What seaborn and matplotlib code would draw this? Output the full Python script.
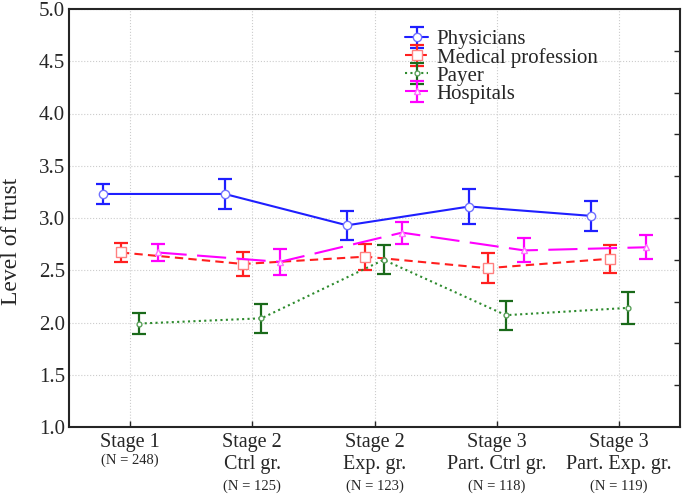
import numpy as np
import pandas as pd
import matplotlib.pyplot as plt
import seaborn as sns

# Data
stage_names = ["Stage 1", "Stage 2", "Stage 2", "Stage 3", "Stage 3"]
group_names = ["", "Ctrl gr.", "Exp. gr.", "Part. Ctrl gr.", "Part. Exp. gr."]
n_sizes = [248, 125, 123, 118, 119]

series_names = ["Physicians", "Medical profession", "Payer", "Hospitals"]
physicians = [3.23, 3.23, 2.93, 3.11, 3.02]
physicians_err = [0.10, 0.14, 0.14, 0.165, 0.14]
medical = [2.67, 2.56, 2.63, 2.52, 2.61]
medical_err = [0.09, 0.115, 0.125, 0.145, 0.135]
payer = [1.99, 2.04, 2.60, 2.07, 2.14]
payer_err = [0.10, 0.14, 0.14, 0.14, 0.155]
hospitals = [2.67, 2.58, 2.86, 2.69, 2.72]
hospitals_err = [0.085, 0.125, 0.105, 0.115, 0.115]

values = [physicians, medical, payer, hospitals]
errors = [physicians_err, medical_err, payer_err, hospitals_err]

# styles
offsets = [-0.225, -0.075, 0.075, 0.225]
line_colors = ["#1f1fff", "#ff1f1f", "#2e8b2e", "#ff00ff"]
err_colors = ["#1f1fff", "#ff1f1f", "#1a6a1a", "#ff00ff"]
edge_colors = ["#7070ff", "#ff8080", "#5aa05a", "#ff70ff"]
linestyles = ["-", (0, (4, 2.5)), (0, (1, 1.6)), (0, (14, 5))]
markers = ["o", "s", "o", "^"]
msizes = [6, 6.5, 3.5, 4.5]

sns.set_theme(style="ticks")
plt.rcParams['font.family'] = ['Liberation Serif', 'DejaVu Serif']

fig = plt.figure(figsize=(6.85, 4.95), dpi=100)
ax = fig.add_axes([69 / 685, (495 - 427) / 495, (680 - 69) / 685, (427 - 9) / 495])

handles = []
for k, name in enumerate(series_names):
    df = pd.DataFrame({
        "x": np.arange(len(stage_names)) + offsets[k],
        "y": values[k],
        "err": errors[k],
    })
    sns.lineplot(data=df, x="x", y="y", ax=ax, color=line_colors[k],
                 linestyle=linestyles[k], linewidth=1.5, marker=markers[k],
                 markersize=msizes[k], markerfacecolor="white",
                 markeredgecolor=edge_colors[k], markeredgewidth=1.0,
                 errorbar=None, sort=False, zorder=3)
    line = ax.get_lines()[-1]
    eb = ax.errorbar(df["x"], df["y"], yerr=df["err"], fmt="none",
                     ecolor=err_colors[k], elinewidth=1.6, capsize=5,
                     capthick=1.6, zorder=2)
    handles.append((eb, line))

ax.set_xlim(-0.5, 4.5)
ax.set_ylim(1.0, 5.0)
ax.set_yticks(np.arange(1.0, 5.01, 0.5))
ax.set_yticklabels([f"{v:.1f}" for v in np.arange(1.0, 5.01, 0.5)], fontsize=15)
ax.set_xticks(range(len(stage_names)))
ax.set_xticklabels([])
ax.set_xlabel("")
ax.set_ylabel("Level of trust", fontsize=17)
ax.yaxis.set_label_coords(-0.077, 0.443)
ax.grid(True, linestyle=":", color="#cccccc", linewidth=0.8)
ax.tick_params(axis="y", length=0, pad=3)
ax.tick_params(axis="x", direction="in", length=4, width=1)
for sp in ax.spines.values():
    sp.set_linewidth(1.5)
    sp.set_color("#222222")

ax2 = ax.twinx()
ax2.set_ylim(1.0, 5.0)
ax2.set_yticks(np.arange(1.4, 4.7, 0.4))
ax2.set_yticklabels([])
ax2.tick_params(axis="y", direction="in", length=4, width=1)
ax2.grid(False)

# multi-line category labels
for i, stage in enumerate(stage_names):
    ax.annotate(stage, xy=(i, 0), xycoords=("data", "axes fraction"),
                xytext=(0, -14.4), textcoords="offset points",
                ha="center", va="baseline", fontsize=14.5)
    if group_names[i]:
        ax.annotate(group_names[i], xy=(i, 0), xycoords=("data", "axes fraction"),
                    xytext=(0, -30.2), textcoords="offset points",
                    ha="center", va="baseline", fontsize=14.5)
        n_off = -45.5
    else:
        n_off = -26.5
    ax.annotate(f"(N = {n_sizes[i]})", xy=(i, 0), xycoords=("data", "axes fraction"),
                xytext=(0, n_off), textcoords="offset points",
                ha="center", va="baseline", fontsize=10.5)

ax.legend(handles, series_names, loc="upper left", bbox_to_anchor=(0.53, 0.98),
          frameon=False, fontsize=15, handlelength=1.1, labelspacing=-0.08,
          borderaxespad=0.2, handletextpad=0.4)

fig.savefig("out.png", dpi=100)
